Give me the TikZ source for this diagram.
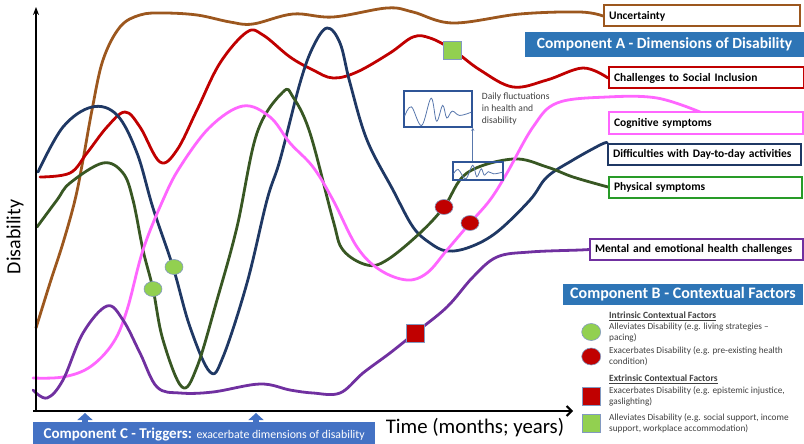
\documentclass[tikz,border=0pt]{standalone}
\usepackage{fontspec}
\setmainfont{Carlito}
\usetikzlibrary{arrows.meta,positioning,shapes.geometric,backgrounds}
\tikzset{>=stealth}
\definecolor{cbrown}{RGB}{156,87,30}
\definecolor{cred}{RGB}{192,0,0}
\definecolor{cpink}{RGB}{255,102,255}
\definecolor{cnavy}{RGB}{31,56,100}
\definecolor{colive}{RGB}{56,87,35}
\definecolor{cgreen}{RGB}{40,155,40}
\definecolor{cpurple}{RGB}{112,48,160}
\definecolor{cbar}{RGB}{46,117,182}
\definecolor{ctrig}{RGB}{68,114,196}
\definecolor{clight}{RGB}{146,208,80}
\definecolor{cinset}{RGB}{47,85,151}
\definecolor{cgrey}{RGB}{64,64,64}
\tikzstyle{axis}=[line width=2pt,black]
\tikzset{curve/.style={draw=#1,line width=2.8pt,line cap=round,line join=round}}
\tikzset{lbl/.style={draw=#1,line width=2pt,fill=white,anchor=west,minimum height=21pt,
  inner xsep=5pt,align=left,font=\bfseries\fontsize{11.5}{13}\selectfont}}
\tikzstyle{bar}=[fill=cbar,text=white,minimum height=25pt,font=\bfseries\fontsize{15.5}{17}\selectfont]
\tikzstyle{gdot}=[ellipse,fill=clight,draw=cinset!60,line width=0.6pt,minimum width=18pt,minimum height=15pt,inner sep=0pt]
\tikzstyle{rdot}=[gdot,fill=cred]
\tikzstyle{gsq}=[rectangle,fill=clight,draw=cinset!60,line width=0.6pt,minimum size=18pt,inner sep=0pt]
\tikzstyle{rsq}=[gsq,fill=cred]
\tikzstyle{legtxt}=[anchor=west,align=left,inner sep=0pt,text=cgrey,font=\fontsize{9.3}{10.8}\selectfont]
\tikzstyle{legtitle}=[legtxt,font=\bfseries\fontsize{9.5}{10.8}\selectfont]
\tikzstyle{fbox}=[draw=cinset,line width=1.5pt,inner sep=0pt]
\tikzstyle{fline}=[cinset!80,line width=0.8pt]
\tikzstyle{trig}=[ctrig,line width=6pt,-{Triangle[width=15pt,length=7pt]}]
\newcommand{\fluct}[3]{%
  \begin{scope}[shift={(#1.north west)},xscale=#2,yscale=#3]
  \draw[fline] plot[smooth,tension=0.6] coordinates {(0.02,0.72) (0.12,0.46) (0.27,0.98)
    (0.41,0.22) (0.49,0.86) (0.58,0.42) (0.64,0.77) (0.72,0.58) (0.83,0.70) (1,0.61)};
  \end{scope}}

\begin{document}
\begin{tikzpicture}[x=1pt,y=-1pt]
\useasboundingbox (0,0) rectangle (804,444);

% axes
\coordinate (origin) at (36,411);
\coordinate (ytop) at (36,7);
\coordinate (xend) at (573,411);
\draw[axis,-{Stealth[length=8pt,width=6pt]}] (origin) -- (ytop);
\draw[axis,-{Straight Barb[length=5pt,width=10pt]}] ([xshift=-3pt]origin) -- (xend);
\node[font=\fontsize{20}{24}\selectfont,rotate=90] (ylab) at (15,237) {Disability};
\node[font=\fontsize{20.8}{24}\selectfont] (xlab) at (475,428) {Time (months; years)};

% dimension labels
\node[lbl=cbrown,text width=186pt] (unc) at (603,16) {Uncertainty};
\node[lbl=cred,text width=185pt] (soc) at (608,78) {Challenges to Social Inclusion};
\node[lbl=cpink,text width=184pt] (cog) at (608,123) {Cognitive symptoms};
\node[lbl=cnavy,text width=183pt] (day) at (607,154) {Difficulties with Day-to-day activities};
\node[lbl=cgreen,text width=183pt] (phys) at (608,187) {Physical symptoms};
\node[lbl=cpurple,text width=203pt] (ment) at (589,249.5) {Mental and emotional health challenges};

\node[bar,minimum width=279pt] (compA) at (664.5,44.5) {Component A - Dimensions of Disability};
\node[bar,minimum width=240pt,minimum height=21pt,font=\bfseries\fontsize{16}{17}\selectfont] (compB) at (683,294) {Component B - Contextual Factors};
\node[bar,fill=ctrig,minimum width=342pt,minimum height=24pt,anchor=north west] (compC) at (33,422)
  {{\fontsize{15}{17}\selectfont Component C - Triggers:} {\mdseries\fontsize{11.8}{13}\selectfont exacerbate dimensions of disability}};

% curves
\begin{scope}[on background layer]
\draw[curve=cbrown] plot[smooth,tension=0.6] coordinates {(36,328) (50,283) (63,243) (75,200) (83,160)
  (92,110) (103,60) (120,27) (140,15) (163,13) (197,15) (230,22) (253,24) (293,14) (333,17) (387,8)
  (413,12) (453,23) (520,14) (580,12) (unc.west)};
\draw[curve=cred] plot[smooth,tension=0.6] coordinates {(40,177) (70,173) (87,153) (107,127) (125,112)
  (140,127) (160,162) (177,150) (197,110) (220,63) (247,32) (263,35) (290,57) (313,70) (333,78)
  (357,72) (390,53) (413,37) (430,38) (453,50) (480,70) (513,87) (547,80) (583,68) (soc.west)};
\draw[curve=cnavy] plot[smooth,tension=0.6] coordinates {(38,172) (63,127) (92,107) (117,115) (137,153)
  (153,208) (173,267) (190,327) (210,372) (223,357) (247,283) (267,200) (280,160) (300,83) (313,47)
  (327,28) (340,43) (350,83) (367,140) (393,190) (413,227) (430,243) (447,251) (470,247) (497,232)
  (530,200) (547,177) (573,160) (600,145) (day.north west)};
\draw[curve=colive] plot[smooth,tension=0.6] coordinates {(37,227) (57,200) (70,183) (103,163) (123,173)
  (133,200) (143,250) (153,289) (163,340) (182,387) (197,367) (217,300) (237,227) (257,133) (283,92)
  (293,97) (310,133) (333,220) (343,250) (367,265) (387,260) (420,233) (444,207) (467,173) (513,159)
  (547,167) (573,177) (phys.west)};
\draw[curve=cpink] plot[smooth,tension=0.6] coordinates {(33,378) (63,377) (90,367) (113,343) (127,310)
  (143,250) (163,200) (180,167) (210,127) (243,106) (270,117) (290,143) (313,167) (333,200) (357,247)
  (380,270) (407,280) (427,273) (447,250) (470,223) (490,200) (507,173) (533,127) (557,103) (607,97)
  (657,98) (700,112)};
\draw[curve=cpurple] plot[smooth,tension=0.6] coordinates {(33,390) (47,398) (63,380) (83,333) (107,306)
  (123,320) (140,353) (157,387) (180,393) (213,392) (260,384) (290,390) (313,393) (340,393) (363,373)
  (390,353) (415,333) (447,307) (473,277) (497,257) (530,252) (580,250) (ment.west)};
\end{scope}

% contextual factors on the curves
\node[gdot] (g1) at (153,289) {};
\node[gdot] (g2) at (174,267) {};
\node[rdot] (r1) at (444,207) {};
\node[rdot] (r2) at (470,223) {};
\node[gsq] (s1) at (452,50) {};
\node[rsq] (s2) at (415,333) {};

% daily fluctuations
\node[fbox,minimum width=68pt,minimum height=36pt] (bigf) at (438,109) {};
\node[fbox,minimum width=50pt,minimum height=18pt] (smallf) at (478,171) {};
\fluct{bigf}{68}{36}
\fluct{smallf}{50}{18}
\draw[cinset!80,line width=1pt,-{Stealth[length=3pt,width=3pt]}] (bigf.south east |- smallf.north) -- (bigf.south east);
\node[right=9pt of bigf,align=left,text=cgrey,font=\fontsize{9.6}{12}\selectfont,inner sep=0pt] (fltxt)
  {Daily fluctuations\\in health and\\disability};

% legend
\node[legtitle] (intr) at (609,316) {\underline{Intrinsic Contextual Factors}};
\node[legtxt] (lg1) at (609,332) {Alleviates Disability (e.g. living strategies –\\pacing)};
\node[legtxt] (lg2) at (609,356.5) {Exacerbates Disability (e.g. pre-existing health\\condition)};
\node[legtitle] (extr) at (609,379) {\underline{Extrinsic Contextual Factors}};
\node[legtxt] (lg3) at (609,396) {Exacerbates Disability (e.g. epistemic injustice,\\gaslighting)};
\node[legtxt] (lg4) at (609,423.5) {Alleviates Disability (e.g. social support, income\\support, workplace accommodation)};
\node[gdot,minimum width=19pt,minimum height=17pt,left=8pt of lg1] (lgd1) {};
\node[rdot,minimum width=19pt,minimum height=17pt,left=8pt of lg2] (lgd2) {};
\node[rsq,left=8pt of lg3] (lgs1) {};
\node[gsq,left=8pt of lg4] (lgs2) {};

% triggers
\coordinate (trg1) at (85,413);
\coordinate (trg2) at (256,413);
\draw[trig] (trg1 |- compC.north) -- (trg1);
\draw[trig] (trg2 |- compC.north) -- (trg2);
\end{tikzpicture}
\end{document}
